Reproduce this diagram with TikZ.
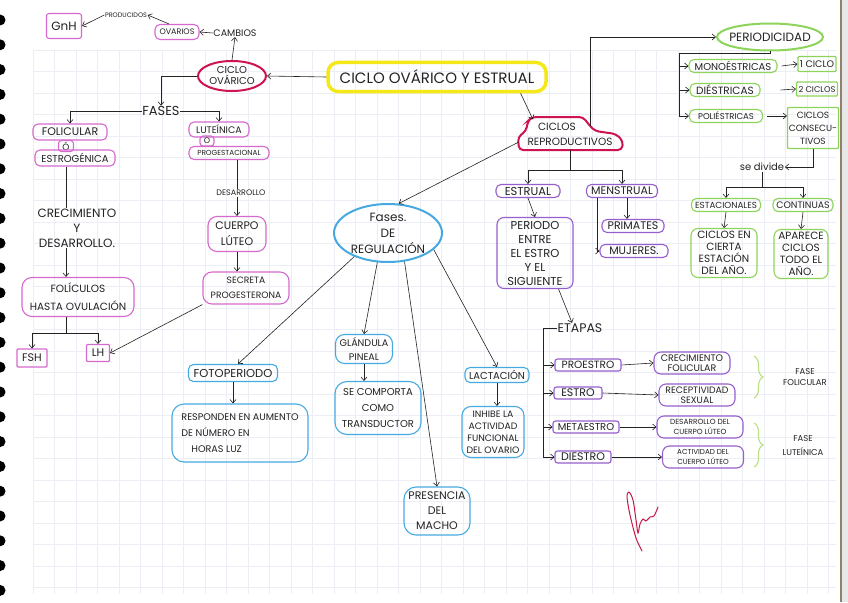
\documentclass[tikz,border=0pt]{standalone}
\usepackage{fontspec}
\setmainfont{Poppins}
\usetikzlibrary{arrows.meta,decorations.pathreplacing,shapes.geometric,calc}
\definecolor{pinkc}{RGB}{214,105,205}
\definecolor{crim}{RGB}{205,20,80}
\definecolor{yel}{RGB}{245,232,25}
\definecolor{viol}{RGB}{150,95,205}
\definecolor{grn}{RGB}{140,212,90}
\definecolor{lgrn}{RGB}{185,225,130}
\definecolor{blu}{RGB}{70,170,225}
\definecolor{gridc}{RGB}{236,238,245}
\definecolor{ink}{RGB}{35,35,35}
\definecolor{sig}{RGB}{195,25,70}
\newcommand\fz[2]{\fontsize{#1}{#2}\selectfont}
\begin{document}
\begin{tikzpicture}[x=1pt,y=-1pt,
  every node/.style={text=ink, align=center, inner sep=0.5pt},
  arr/.style={draw=ink, line width=0.6pt, -{Straight Barb[length=3.5pt,width=6pt]}},
  ln/.style={draw=ink, line width=0.6pt},
  hbox/.style={draw=#1, line width=1.1pt, rounded corners=2.5pt},
  hscal/.style={draw=#1, line width=1.1pt, rounded corners=5pt},
  hoval/.style={draw=#1, ellipse, line width=2pt, inner sep=-4pt},
]
% ---------- page ----------
\useasboundingbox (0,0) rectangle (848,602);
\fill[white] (0,0) rectangle (848,602);
\foreach \gx in {33,54.5,...,836} \draw[gridc, line width=0.5pt] (\gx,50) -- (\gx,594);
\foreach \gy in {50,71.5,...,594} \draw[gridc, line width=0.5pt] (33,\gy) -- (836,\gy);
\fill[gray!18] (841,0) rectangle (848,602);
\draw[gray!70!brown, line width=1.2pt] (841,0) -- (841,602);
\foreach \i in {0,...,23} \fill[black] (0,20+24.8*\i) circle[radius=5.5pt];

% ---------- title and left part ----------
\node[draw=yel, line width=3.5pt, rounded corners=10pt, minimum width=218, minimum height=29, font=\fz{15}{16}] (title) at (437,77) {CICLO OVÁRICO Y ESTRUAL};
\node[hoval=crim, minimum width=68, minimum height=30, font=\fz{10}{11}] (cicov) at (232,76) {CICLO\\OVÁRICO};
\node[font=\fz{9.5}{10}] (cambios) at (235,33) {CAMBIOS};
\node[hscal=pinkc, minimum width=44, minimum height=15, font=\fz{8}{9}] (ovarios) at (177,32) {OVARIOS};
\node[font=\fz{6.5}{7}] (prod) at (126,15) {PRODUCIDOS};
\node[hbox=pinkc, minimum width=35, minimum height=25, font=\fz{12}{13}] (gnh) at (64,26) {GnH};
\node[font=\fz{13}{14}] (fases) at (161,111) {FASES};

\node[hscal=pinkc, minimum width=74, minimum height=16, font=\fz{11}{12}] (folA) at (70,132) {FOLICULAR};
\node[hscal=pinkc, rounded corners=3pt, minimum width=15, minimum height=11, inner sep=0pt, font=\fz{9}{9}] (folB) at (66,146) {Ó};
\node[hscal=pinkc, minimum width=80, minimum height=16, font=\fz{10}{11}] (folC) at (75,158) {ESTROGÉNICA};
\node[hscal=pinkc, minimum width=60, minimum height=15, font=\fz{9.5}{10}] (lutA) at (219,129.5) {LUTEÍNICA};
\node[hscal=pinkc, rounded corners=3pt, minimum width=14, minimum height=10, inner sep=0pt, font=\fz{8}{8}] (lutB) at (207,141) {O};
\node[hscal=pinkc, minimum width=80, minimum height=13, font=\fz{7.3}{8}] (lutC) at (229,153) {PROGESTACIONAL};

\node[font=\fz{12}{15}] (crec) at (77,228) {CRECIMIENTO\\Y\\DESARROLLO.};
\node[hscal=pinkc, rounded corners=10pt, minimum width=112, minimum height=39, font=\fz{10.5}{18}] (folh) at (78,297) {FOLÍCULOS\\HASTA OVULACIÓN};
\node[hbox=pinkc, rounded corners=1pt, minimum width=30, minimum height=18, font=\fz{11}{12}] (fsh) at (32,358) {FSH};
\node[hbox=pinkc, rounded corners=1pt, minimum width=23, minimum height=17, font=\fz{11}{12}] (lh) at (98,353) {LH};
\coordinate (br1) at (66,333);

\node[font=\fz{8}{9}] (desa) at (241,193) {DESARROLLO};
\node[hscal=pinkc, rounded corners=9pt, minimum width=58, minimum height=35, font=\fz{11}{16}] (cuerpo) at (237,234) {CUERPO\\LÚTEO};
\node[hscal=pinkc, rounded corners=9pt, minimum width=86, minimum height=32, font=\fz{9.2}{15}] (secreta) at (246,288) {SECRETA\\PROGESTERONA};

% ---------- ciclos reproductivos ----------
\node[minimum width=102, minimum height=31, inner sep=0pt, font=\fz{10.5}{15}] (cicrep) at (570,134) {CICLOS\hspace*{26pt}\\REPRODUCTIVOS};
\draw[crim, line width=2pt, rounded corners=4pt] (519,150) -- (518,137) -- (526,131) -- (528,121) -- (532,117) -- (583,117) -- (590,126) -- (595,131) -- (616,134) -- (623,141) -- (622,150) -- cycle;

\node[hoval=blu, inner sep=-6pt, minimum width=108, minimum height=58, font=\fz{12}{16}] (fasreg) at (388,233) {Fases.\\DE\\REGULACIÓN};

% ---------- periodicidad ----------
\node[hoval=grn, inner sep=-7pt, minimum width=106, minimum height=27, font=\fz{12}{13}] (period) at (770,37) {PERIODICIDAD};
\node[hscal=grn, minimum width=88, minimum height=13, font=\fz{10}{11}] (mono) at (733,66) {MONOÉSTRICAS};
\node[hbox=grn, rounded corners=1pt, minimum width=38, minimum height=15, font=\fz{9.5}{10}] (onec) at (817,64) {1 CICLO};
\node[hscal=grn, minimum width=70, minimum height=13, font=\fz{10.5}{11}] (die) at (725,90) {DIÉSTRICAS};
\node[hbox=grn, rounded corners=1pt, minimum width=41, minimum height=14, font=\fz{8.3}{9}] (twoc) at (817,89) {2 CICLOS};
\node[hscal=grn, minimum width=73, minimum height=13, font=\fz{8.5}{9}] (polie) at (726,116) {POLIÉSTRICAS};
\node[hbox=grn, rounded corners=1pt, minimum width=51, minimum height=41, font=\fz{9}{13}] (consec) at (813,128) {CICLOS\\CONSECU-\\TIVOS};
\node[font=\fz{10}{11}] (sediv) at (762,167) {se divide};
\coordinate (br5) at (762,187);
\node[hscal=grn, minimum width=69, minimum height=13, font=\fz{8.8}{9}] (estac) at (726,205) {ESTACIONALES};
\node[hscal=grn, minimum width=60, minimum height=13, font=\fz{9.4}{10}] (contin) at (803,205) {CONTINUAS};
\node[hscal=grn, rounded corners=7pt, minimum width=66, minimum height=49, font=\fz{10.5}{12}] (cierta) at (724,253) {CICLOS EN\\CIERTA\\ESTACIÓN\\DEL AÑO.};
\node[hscal=grn, rounded corners=7pt, minimum width=54, minimum height=49, font=\fz{10.5}{12}] (aparece) at (801,254) {APARECE\\CICLOS\\TODO EL\\AÑO.};
\coordinate (br4) at (679,53);

% ---------- estrual / menstrual ----------
\coordinate (br2) at (570,170);
\node[hscal=viol, minimum width=64, minimum height=13, font=\fz{11.5}{12}] (estrual) at (528,191) {ESTRUAL};
\node[hscal=viol, minimum width=71, minimum height=13, font=\fz{11}{12}] (menstr) at (622,191) {MENSTRUAL};
\node[hscal=viol, rounded corners=7pt, minimum width=76, minimum height=71, font=\fz{11.5}{14}] (periodo) at (535,253) {PERIODO\\ENTRE\\EL ESTRO\\Y EL\\SIGUIENTE};
\node[hscal=viol, minimum width=62, minimum height=13, font=\fz{11}{12}] (primates) at (633,226) {PRIMATES};
\node[hscal=viol, minimum width=68, minimum height=13, font=\fz{11}{12}] (mujeres) at (634,251) {MUJERES.};
\node[font=\fz{12.5}{13}] (etapas) at (580,328) {ETAPAS};
\coordinate (br3) at (543,328);
\node[hbox=viol, minimum width=66, minimum height=12, font=\fz{10.5}{11}] (proestro) at (588,365) {PROESTRO};
\node[hbox=viol, minimum width=48, minimum height=12, font=\fz{11}{11}] (estro) at (578,393) {ESTRO};
\node[hbox=viol, minimum width=66, minimum height=12, font=\fz{10}{10}] (metaestro) at (586,427) {METAESTRO};
\node[hbox=viol, minimum width=56, minimum height=12, font=\fz{11}{11}] (diestro) at (583,457) {DIESTRO};
\node[hscal=viol, rounded corners=7pt, minimum width=76, minimum height=22, font=\fz{9.5}{10}] (crecfol) at (692,363) {CRECIMIENTO\\FOLICULAR};
\node[hscal=viol, rounded corners=7pt, minimum width=76, minimum height=22, font=\fz{9.3}{10}] (recep) at (697,395) {RECEPTIVIDAD\\SEXUAL};
\node[hscal=viol, rounded corners=7pt, minimum width=86, minimum height=22, font=\fz{7.4}{9.5}] (desdel) at (700,427) {DESARROLLO DEL\\CUERPO LÚTEO};
\node[hscal=viol, rounded corners=7pt, minimum width=81, minimum height=22, font=\fz{7.2}{9.5}] (actdel) at (703,457) {ACTIVIDAD DEL\\CUERPO LÚTEO};
\node[font=\fz{8.5}{11}] (ffol) at (805,377) {FASE\\FOLICULAR};
\node[font=\fz{8.5}{14}] (flut) at (803,446) {FASE\\LUTEÍNICA};
\draw[lgrn, line width=1.1pt, decorate, decoration={brace, amplitude=9pt}] (754,356) -- (754,398);
\draw[lgrn, line width=1.1pt, decorate, decoration={brace, amplitude=9pt}] (754,423) -- (754,467);

% ---------- fases de regulacion ----------
\node[hscal=blu, minimum width=89, minimum height=17, font=\fz{11.5}{12}] (foto) at (233,373) {FOTOPERIODO};
\node[hscal=blu, rounded corners=12pt, minimum width=136, minimum height=58, align=left, font=\fz{9.6}{16}] (respon) at (240,433) {RESPONDEN EN AUMENTO\\DE NÚMERO EN\\\hspace*{10pt}HORAS LUZ};
\node[hscal=blu, rounded corners=9pt, minimum width=57, minimum height=29, font=\fz{9.6}{14}] (glandula) at (364,349) {GLÁNDULA\\PINEAL};
\node[hscal=blu, rounded corners=12pt, minimum width=86, minimum height=53, font=\fz{10}{16}] (secomp) at (378,408) {SE COMPORTA\\COMO\\TRANSDUCTOR};
\node[hscal=blu, rounded corners=12pt, minimum width=66, minimum height=48, font=\fz{11}{15}] (presencia) at (437,511) {PRESENCIA\\DEL\\MACHO};
\node[hscal=blu, minimum width=64, minimum height=15, font=\fz{10}{11}] (lactac) at (497,375) {LACTACIÓN};
\node[hscal=blu, rounded corners=9pt, minimum width=62, minimum height=51, font=\fz{9.3}{12}] (inhibe) at (493,432) {INHIBE LA\\ACTIVIDAD\\FUNCIONAL\\DEL OVARIO};

% ---------- connectors ----------
\draw[arr] (title.west) -- (cicov.east);
\draw[arr] (cicov.north) -- (cambios.south);
\draw[arr] (cambios.west) -- (ovarios.east);
\draw[arr] (ovarios.135) -- (prod.east);
\draw[arr] (prod.west) -- (gnh.east);
\draw[arr] (cicov.west) -| (fases.north);
\draw[arr] (fases.west) -| (folA.north);
\draw[arr] (fases.east) -| (lutA.north);
\draw[ln] (folB.south |- folC.south) -- (folB.south |- crec.north);
\draw[arr] (folB.south |- crec.south) -- (folB.south |- folh.north);
\draw[ln] (br1 |- folh.south) -- (br1);
\draw[arr] (br1) -| (fsh.north);
\draw[arr] (br1) -| (lh.north);
\draw[ln] (lutC.south -| cuerpo.north) -- (desa.north -| cuerpo.north);
\draw[arr] (desa.south -| cuerpo.north) -- (cuerpo.north);
\draw[arr] (cuerpo.south) -- (cuerpo.south |- secreta.north);
\draw[arr] (secreta.south west) -- (lh.east);

\draw[arr] (title.-11) -- ([xshift=14pt,yshift=-1pt]cicrep.north west);
\draw[arr] ([xshift=-31pt,yshift=-8pt]cicrep.north east) |- (period.west);
\draw[arr] ([yshift=-8pt]cicrep.west) -- (fasreg.70);
\draw[ln] (cicrep.south) -- (br2);
\draw[arr] (br2) -| (estrual.north);
\draw[arr] (br2) -| (menstr.north);
\draw[arr] (estrual.south) -- (periodo.north);
\draw[arr] ([xshift=5pt]menstr.south) -- ([xshift=5pt]menstr.south |- primates.north);
\draw[arr] ([xshift=-25pt]menstr.south) |- (mujeres.west);
\draw[arr] ([xshift=-15pt]periodo.south east) -- ([xshift=-8pt]etapas.north);
\draw[arr] (etapas.west) -- (br3) |- (diestro.west);
\draw[arr] (br3) |- (proestro.west);
\draw[arr] (br3) |- (estro.west);
\draw[arr] (br3) |- (metaestro.west);
\draw[arr] (proestro.east) -- (crecfol.west);
\draw[arr] (estro.east) -- (recep.west);
\draw[arr] (metaestro.east) -- (desdel.west);
\draw[arr] (diestro.east) -- (actdel.west);

\draw[arr] (period.south) |- (br4) |- (polie.west);
\draw[arr] (br4) |- (mono.west);
\draw[arr] (br4) |- (die.west);
\draw[arr] ([xshift=4pt]mono.east) -- (onec.west);
\draw[arr] ([xshift=20pt]die.east) -- (twoc.west);
\draw[arr] ([xshift=4pt]polie.east) -- (consec.west |- polie.east);
\draw[arr] (consec.south) |- (sediv.east);
\draw[ln] (sediv.south) -- (br5);
\draw[arr] (br5) -| (estac.north);
\draw[arr] (br5) -| (contin.north);
\draw[arr] (estac.south) -- (cierta.north);
\draw[arr] (contin.south) -- (aparece.north);

\draw[arr] (fasreg.215) -- ([xshift=5pt]foto.north);
\draw[arr] (fasreg.250) -- (glandula.north);
\draw[arr] (fasreg.300) -- (presencia.north);
\draw[arr] (fasreg.340) -- (lactac.north);
\draw[arr] (foto.south) -- (respon.north -| foto.south);
\draw[arr] (glandula.south) -- (glandula.south |- secomp.north);
\draw[arr] (lactac.south) -- (lactac.south |- inhibe.north);

% ---------- signature ----------
\draw[sig, line width=1pt, line cap=round] plot[smooth] coordinates {(642,551) (636,538) (630,515) (627,497) (629,492) (633,500) (636,520) (638,533) (640,524) (643,519) (646,521) (650,517) (654,516) (658,507)};
\end{tikzpicture}
\end{document}
